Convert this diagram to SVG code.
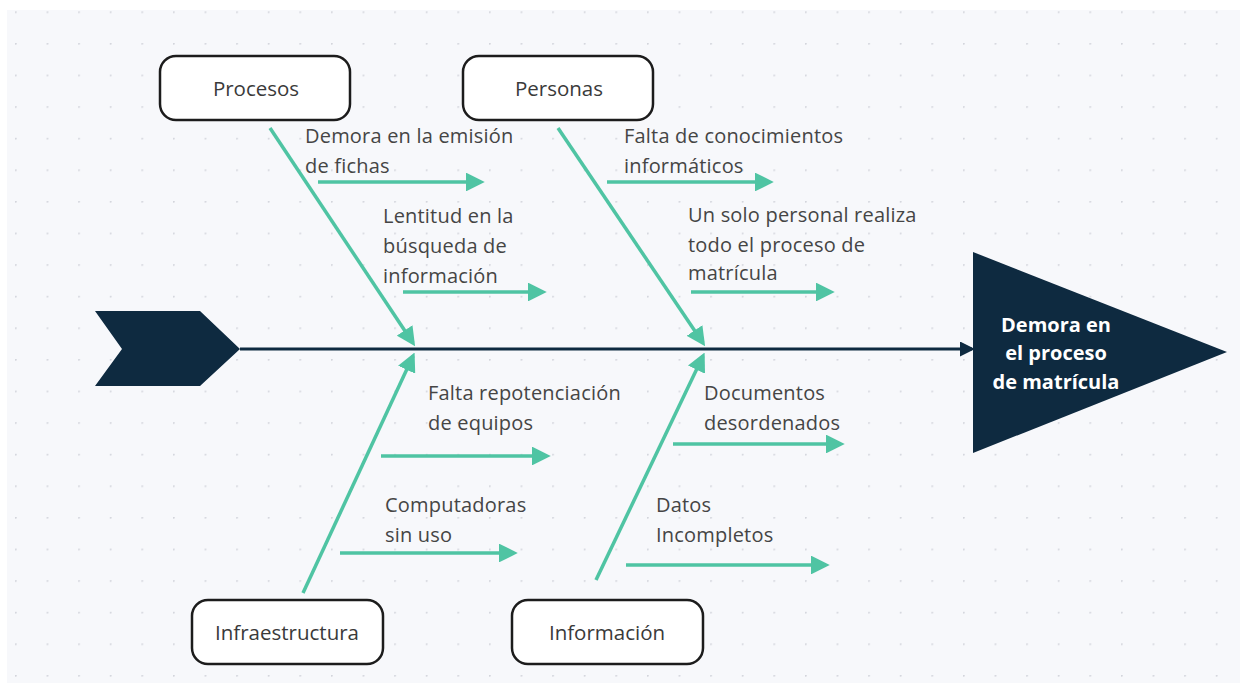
<svg xmlns="http://www.w3.org/2000/svg" width="1244" height="686" viewBox="0 0 1244 686">
<defs>
<pattern id="dots" x="15" y="43" width="31.6" height="31.6" patternUnits="userSpaceOnUse">
<circle cx="0.8" cy="0.8" r="1" fill="#d3d5dc"/>
</pattern>
<marker id="ah" viewBox="0 0 10 10" refX="8" refY="5" markerWidth="5.4" markerHeight="5.4" orient="auto" markerUnits="strokeWidth">
<path d="M0,0 L10,5 L0,10 z" fill="#4fc4a3"/>
</marker>
<marker id="ahd" viewBox="0 0 10 10" refX="8" refY="5" markerWidth="5" markerHeight="5" orient="auto" markerUnits="strokeWidth">
<path d="M0,0 L10,5 L0,10 z" fill="#0e2a40"/>
</marker>
</defs>
<style>
.bone{stroke:#4fc4a3;stroke-width:3.5;fill:none;marker-end:url(#ah)}
.sub{stroke:#4fc4a3;stroke-width:3.5;fill:none;marker-end:url(#ah)}
.box{fill:#ffffff;stroke:#1c1c1c;stroke-width:2.5}
.nt{font-family:"Open Sans","Noto Sans",sans-serif;font-size:20.5px;fill:#3a3a3a;text-anchor:middle}
.lb{font-family:"Open Sans","Noto Sans",sans-serif;font-size:20px;fill:#454545;letter-spacing:0.2px}
.head{font-family:"Open Sans","Noto Sans",sans-serif;font-size:20px;font-weight:bold;fill:#ffffff;text-anchor:middle}
</style>
<rect width="1244" height="686" fill="#ffffff"/>
<rect x="7" y="10" width="1233" height="673" fill="#f7f8fb"/>
<rect x="7" y="10" width="1233" height="673" fill="url(#dots)"/>

<g id="tail">
<path d="M95,311 L200,311 L240,349 L200,386 L95,386 L122,349 Z" fill="#0e2a40"/>
</g>

<g id="connectors">
<line x1="240" y1="349" x2="972" y2="349" stroke="#0e2a40" stroke-width="3" marker-end="url(#ahd)"/>
<line class="bone" x1="270" y1="128" x2="413" y2="343"/>
<line class="bone" x1="558" y1="128" x2="703" y2="343"/>
<line class="bone" x1="303" y1="593" x2="413" y2="356"/>
<line class="bone" x1="596" y1="580" x2="703" y2="356"/>
<line class="sub" x1="318" y1="182" x2="481" y2="182"/>
<line class="sub" x1="403" y1="292" x2="543" y2="292"/>
<line class="sub" x1="607" y1="182" x2="770" y2="182"/>
<line class="sub" x1="691" y1="292" x2="831" y2="292"/>
<line class="sub" x1="381" y1="456" x2="547" y2="456"/>
<line class="sub" x1="340" y1="553" x2="514" y2="553"/>
<line class="sub" x1="673" y1="444" x2="841" y2="444"/>
<line class="sub" x1="626" y1="565" x2="826" y2="565"/>
</g>

<g id="head">
<path d="M973,252 L1227,352 L973,453 Z" fill="#0e2a40"/>
<text class="head" x="1056" y="332">Demora en</text>
<text class="head" x="1056" y="360">el proceso</text>
<text class="head" x="1056" y="389">de matrícula</text>
</g>

<g id="procesos">
<rect class="box" x="160" y="56" width="190" height="64" rx="16"/>
<text class="nt" x="256" y="96">Procesos</text>
</g>
<g id="personas">
<rect class="box" x="463" y="56" width="190" height="64" rx="16"/>
<text class="nt" x="559" y="96">Personas</text>
</g>
<g id="infraestructura">
<rect class="box" x="192" y="600" width="191" height="64" rx="16"/>
<text class="nt" x="287" y="640">Infraestructura</text>
</g>
<g id="informacion">
<rect class="box" x="512" y="600" width="191" height="64" rx="16"/>
<text class="nt" x="607" y="640">Información</text>
</g>

<g id="labels">
<text class="lb" x="305" y="143">Demora en la emisión</text>
<text class="lb" x="305" y="173">de fichas</text>
<text class="lb" x="383" y="223">Lentitud en la</text>
<text class="lb" x="383" y="253">búsqueda de</text>
<text class="lb" x="383" y="283">información</text>
<text class="lb" x="624" y="143">Falta de conocimientos</text>
<text class="lb" x="624" y="173">informáticos</text>
<text class="lb" x="688" y="222">Un solo personal realiza</text>
<text class="lb" x="688" y="252">todo el proceso de</text>
<text class="lb" x="688" y="280">matrícula</text>
<text class="lb" x="428" y="400">Falta repotenciación</text>
<text class="lb" x="428" y="430">de equipos</text>
<text class="lb" x="385" y="512">Computadoras</text>
<text class="lb" x="385" y="542">sin uso</text>
<text class="lb" x="704" y="400">Documentos</text>
<text class="lb" x="704" y="430">desordenados</text>
<text class="lb" x="656" y="512">Datos</text>
<text class="lb" x="656" y="542">Incompletos</text>
</g>
</svg>
